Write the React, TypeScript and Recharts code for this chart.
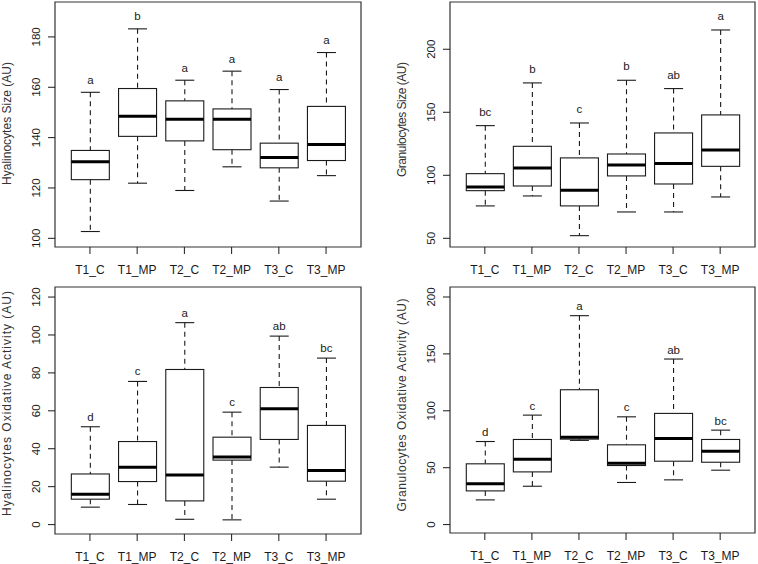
import React from 'react';
import { ComposedChart, Bar, XAxis, YAxis, ReferenceArea, Label } from 'recharts';

const groups = ['T1_C', 'T1_MP', 'T2_C', 'T2_MP', 'T3_C', 'T3_MP'];
const groupPos = [1, 2, 3, 4, 5, 6];

// Hyalinocytes size
const hyaSizeMin = [102.7, 121.9, 119.0, 128.4, 114.8, 124.9];
const hyaSizeQ1 = [123.3, 140.5, 138.7, 135.2, 128.0, 130.9];
const hyaSizeMed = [130.4, 148.5, 147.3, 147.3, 132.1, 137.3];
const hyaSizeQ3 = [134.9, 159.5, 154.6, 151.4, 137.8, 152.4];
const hyaSizeMax = [158.0, 183.2, 162.8, 166.4, 159.1, 173.8];
const hyaSizeLetters = ['a', 'b', 'a', 'a', 'a', 'a'];
const hyaSizeTicks = [100, 120, 140, 160, 180];

// Granulocytes size
const graSizeMin = [75.7, 83.6, 52.1, 70.9, 70.9, 82.8];
const graSizeQ1 = [87.8, 91.5, 75.7, 99.5, 93.1, 107.1];
const graSizeMed = [90.7, 105.8, 88.1, 108.2, 109.3, 120.1];
const graSizeQ3 = [101.3, 123.0, 113.8, 116.9, 133.6, 147.9];
const graSizeMax = [139.4, 173.3, 141.5, 175.4, 168.8, 215.3];
const graSizeLetters = ['bc', 'b', 'c', 'b', 'ab', 'a'];
const graSizeTicks = [50, 100, 150, 200];

// Hyalinocytes oxidative activity
const hyaOxMin = [9.2, 10.6, 2.8, 2.5, 30.3, 13.4];
const hyaOxQ1 = [13.4, 22.7, 12.5, 34.0, 44.9, 22.9];
const hyaOxMed = [16.0, 30.3, 26.2, 35.7, 61.1, 28.5];
const hyaOxQ3 = [26.7, 43.8, 81.8, 46.1, 72.3, 52.3];
const hyaOxMax = [51.6, 75.5, 106.5, 59.3, 99.4, 87.8];
const hyaOxLetters = ['d', 'c', 'a', 'c', 'ab', 'bc'];
const hyaOxTicks = [0, 20, 40, 60, 80, 100, 120];

// Granulocytes oxidative activity
const graOxMin = [21.7, 33.7, 74.0, 37.0, 39.3, 47.8];
const graOxQ1 = [29.6, 46.3, 75.1, 51.9, 55.7, 54.8];
const graOxMed = [35.8, 57.5, 76.8, 54.0, 75.7, 64.5];
const graOxQ3 = [53.4, 74.8, 118.5, 70.1, 97.7, 74.8];
const graOxMax = [73.0, 96.2, 183.6, 94.7, 145.5, 83.0];
const graOxLetters = ['d', 'c', 'a', 'c', 'ab', 'bc'];
const graOxTicks = [0, 50, 100, 150, 200];

const FONT = '"Liberation Sans", Arial, sans-serif';
const INK = '#1a1a1a';
const X_DOMAIN: [number, number] = [0.26, 6.74];

const buildRows = (
  min: number[], q1: number[], med: number[], q3: number[], max: number[], letters: string[]
) =>
  groupPos.map((x, i) => ({
    x,
    range: [min[i], max[i]],
    min: min[i],
    q1: q1[i],
    med: med[i],
    q3: q3[i],
    max: max[i],
    letter: letters[i],
  }));

// one bar spans min..max; the box and median are placed inside it on the same linear scale
const BoxShape = (props: any) => {
  const { x, y, width, height, payload, gap } = props;
  const top = Math.min(y, y + height);
  const h = Math.abs(height);
  const { min, q1, med, q3, max, letter } = payload;
  const toPx = (v: number) => top + (h * (max - v)) / (max - min);
  const cx = x + width / 2;
  const cap = width / 4;
  const yMax = toPx(max);
  const yMin = toPx(min);
  const yQ1 = toPx(q1);
  const yQ3 = toPx(q3);
  const yMed = toPx(med);
  return (
    <g>
      <line x1={cx} x2={cx} y1={yMax} y2={yQ3} stroke={INK} strokeWidth={1.1} strokeDasharray="5 4" />
      <line x1={cx} x2={cx} y1={yQ1} y2={yMin} stroke={INK} strokeWidth={1.1} strokeDasharray="5 4" />
      <line x1={cx - cap} x2={cx + cap} y1={yMax} y2={yMax} stroke={INK} strokeWidth={1.1} />
      <line x1={cx - cap} x2={cx + cap} y1={yMin} y2={yMin} stroke={INK} strokeWidth={1.1} />
      <rect x={x} y={yQ3} width={width} height={yQ1 - yQ3} fill="#fff" stroke={INK} strokeWidth={1.1} />
      <line x1={x} x2={x + width} y1={yMed} y2={yMed} stroke="#000" strokeWidth={3} />
      <text x={cx} y={yMax - gap} textAnchor="middle" fontSize={11.5} fontFamily={FONT} fill={INK}>
        {letter}
      </text>
    </g>
  );
};

const YTick = (props: any) => {
  const { x, y, payload } = props;
  const tx = x - 6;
  return (
    <text
      x={tx}
      y={y}
      transform={`rotate(-90, ${tx}, ${y})`}
      textAnchor="middle"
      fontSize={11.5}
      fontFamily={FONT}
      fill={INK}
    >
      {payload.value}
    </text>
  );
};

interface PanelProps {
  title: string;
  titleLength: number;
  titleShift: number;
  rows: ReturnType<typeof buildRows>;
  domain: [number, number];
  ticks: number[];
  left: number;
  top: number;
  axisWidth: number;
  margin: { top: number; right: number; bottom: number; left: number };
  letterGap: number;
}

const BoxPanel: React.FC<PanelProps> = ({
  title, titleLength, titleShift, rows, domain, ticks, left, top, axisWidth, margin, letterGap,
}) => {
  const renderTitle = (p: any) => {
    const vb = p.viewBox;
    const tx = vb.x + vb.width - 44.5;
    const ty = vb.y + vb.height / 2 + titleShift;
    return (
      <text
        x={tx}
        y={ty}
        transform={`rotate(-90, ${tx}, ${ty})`}
        textAnchor="middle"
        fontSize={12}
        fontFamily={FONT}
        fill="#333"
        textLength={titleLength}
        lengthAdjust="spacing"
      >
        {title}
      </text>
    );
  };

  return (
    <div style={{ position: 'absolute', left, top }}>
      <ComposedChart width={379} height={282} data={rows} margin={margin}>
        <XAxis
          dataKey="x"
          type="number"
          domain={X_DOMAIN}
          ticks={groupPos}
          interval={0}
          allowDataOverflow
          tickFormatter={(v) => groups[v - 1]}
          axisLine={false}
          tickSize={7}
          tickMargin={11}
          height={30}
          tickLine={{ stroke: INK }}
          tick={{ fill: INK, fontSize: 12, fontFamily: FONT }}
        />
        <YAxis
          type="number"
          domain={domain}
          ticks={ticks}
          interval={0}
          allowDataOverflow
          width={axisWidth}
          axisLine={false}
          tickSize={7}
          tickLine={{ stroke: INK }}
          tick={<YTick />}
        >
          <Label content={renderTitle} />
        </YAxis>
        <ReferenceArea
          x1={X_DOMAIN[0]}
          x2={X_DOMAIN[1]}
          y1={domain[0]}
          y2={domain[1]}
          fill="none"
          stroke="#333"
          strokeWidth={1.2}
          fillOpacity={0}
        />
        <Bar
          dataKey="range"
          barSize={38}
          isAnimationActive={false}
          shape={(p: any) => <BoxShape {...p} gap={letterGap} />}
        />
      </ComposedChart>
    </div>
  );
};

export default function App() {
  const hyaSize = buildRows(hyaSizeMin, hyaSizeQ1, hyaSizeMed, hyaSizeQ3, hyaSizeMax, hyaSizeLetters);
  const graSize = buildRows(graSizeMin, graSizeQ1, graSizeMed, graSizeQ3, graSizeMax, graSizeLetters);
  const hyaOx = buildRows(hyaOxMin, hyaOxQ1, hyaOxMed, hyaOxQ3, hyaOxMax, hyaOxLetters);
  const graOx = buildRows(graOxMin, graOxQ1, graOxMed, graOxQ3, graOxMax, graOxLetters);

  return (
    <div style={{ position: 'absolute', left: 0, top: 0, width: 758, height: 564, background: '#fff' }}>
      <BoxPanel
        title="Hyalinocytes Size (AU)"
        titleLength={123}
        titleShift={-1}
        rows={hyaSize}
        domain={[96.55, 193.87]}
        ticks={hyaSizeTicks}
        left={0}
        top={0}
        axisWidth={55}
        margin={{ top: 2, right: 18, bottom: 5, left: 0 }}
        letterGap={8.5}
      />
      <BoxPanel
        title="Granulocytes Size (AU)"
        titleLength={115}
        titleShift={-5}
        rows={graSize}
        domain={[43.1, 237.5]}
        ticks={graSizeTicks}
        left={379}
        top={0}
        axisWidth={71}
        margin={{ top: 2, right: 3, bottom: 5, left: 0 }}
        letterGap={10}
      />
      <BoxPanel
        title="Hyalinocytes Oxidative Activity (AU)"
        titleLength={225}
        titleShift={-7}
        rows={hyaOx}
        domain={[-4.96, 125.3]}
        ticks={hyaOxTicks}
        left={0}
        top={282}
        axisWidth={55}
        margin={{ top: 5, right: 18, bottom: 0, left: 0 }}
        letterGap={6}
      />
      <BoxPanel
        title="Granulocytes Oxidative Activity (AU)"
        titleLength={213}
        titleShift={-5}
        rows={graOx}
        domain={[-7.4, 208.8]}
        ticks={graOxTicks}
        left={379}
        top={282}
        axisWidth={71}
        margin={{ top: 5, right: 3, bottom: 1, left: 0 }}
        letterGap={5.5}
      />
    </div>
  );
}
